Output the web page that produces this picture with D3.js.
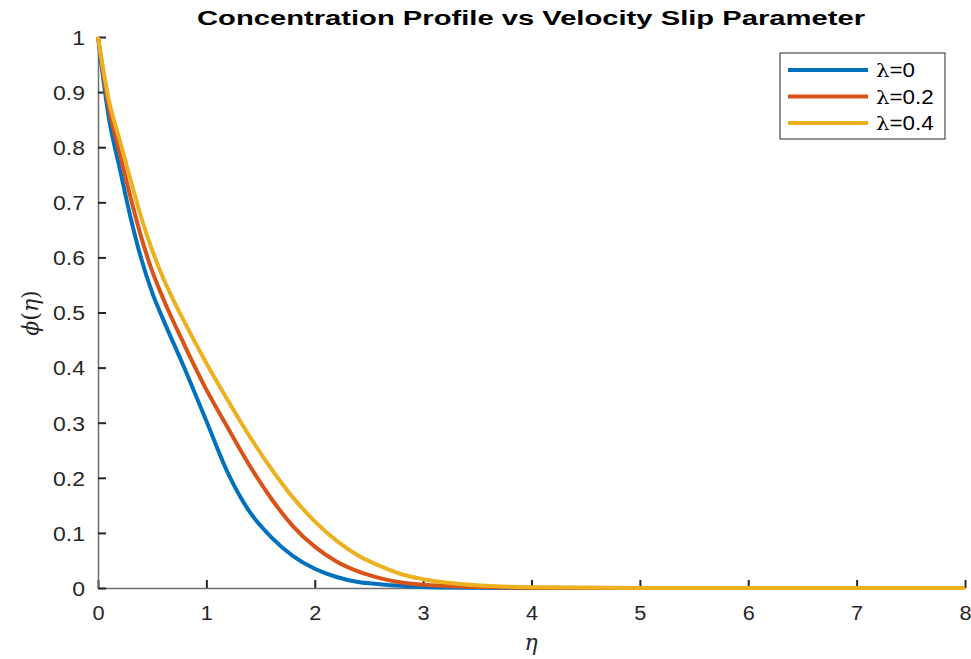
<!DOCTYPE html>
<html>
<head>
<meta charset="utf-8">
<script src="https://cdn.jsdelivr.net/npm/d3@7"></script>
<style>
  body { margin: 0; background: #fff; }
  svg { display: block; font-family: "Liberation Sans", Arial, sans-serif; }
</style>
</head>
<body>
<svg id="chart" width="971" height="659"></svg>
<script>
const eta = [0, 0.1, 0.2, 0.3, 0.4, 0.5, 0.6, 0.8, 1.0, 1.2, 1.4, 1.6, 1.8, 2.0, 2.2, 2.4, 2.6, 2.8, 3.0, 3.5, 4, 5, 6, 7, 8]
const phiL0 = [1, 0.853, 0.762, 0.673, 0.597, 0.536, 0.488, 0.398, 0.303, 0.208, 0.138, 0.092, 0.058, 0.035, 0.02, 0.011, 0.007, 0.004, 0.002, 0.0005, 0, 0, 0, 0, 0]
const phiL2 = [1, 0.872, 0.79, 0.709, 0.636, 0.575, 0.526, 0.44, 0.36, 0.29, 0.222, 0.162, 0.112, 0.075, 0.048, 0.03, 0.018, 0.01, 0.006, 0.002, 0.0005, 0, 0, 0, 0]
const phiL4 = [1, 0.886, 0.813, 0.741, 0.672, 0.613, 0.563, 0.482, 0.408, 0.34, 0.275, 0.216, 0.164, 0.121, 0.086, 0.059, 0.04, 0.025, 0.016, 0.005, 0.0015, 0.0002, 0, 0, 0]
const seriesNames = ['=0', '=0.2', '=0.4']
const colors = ['#0072BD', '#D95319', '#EDB120']
const xTicks = [0, 1, 2, 3, 4, 5, 6, 7, 8]
const yTicks = [0, 0.1, 0.2, 0.3, 0.4, 0.5, 0.6, 0.7, 0.8, 0.9, 1]

const svg = d3.select('#chart')
const plotLeft = 98, plotRight = 965, plotTop = 37, plotBottom = 588
const stretch = 1.12

const x = d3.scaleLinear().domain([0, 8]).range([plotLeft, plotRight])
const y = d3.scaleLinear().domain([0, 1]).range([plotBottom, plotTop])

const series = [phiL0, phiL2, phiL4].map((vals, i) => ({
    name: seriesNames[i],
    color: colors[i],
    points: vals.map((v, j) => [eta[j], v])
}))

// horizontal stretch around an anchor x, the reference is a bit wide
const widen = (ax, s = stretch) => `translate(${ax},0) scale(${s},1) translate(${-ax},0)`

// axes, ticks pointing inward like matlab
const xAxis = svg.append('g')
    .attr('transform', `translate(0,${plotBottom})`)
    .call(d3.axisBottom(x).tickValues(xTicks).tickSizeInner(-8).tickSizeOuter(0).tickPadding(17).tickFormat(d3.format('d')))
const yAxis = svg.append('g')
    .attr('transform', `translate(${plotLeft},0)`)
    .call(d3.axisLeft(y).tickValues(yTicks).tickSizeInner(-8).tickSizeOuter(0).tickPadding(13).tickFormat(d => d === 0 || d === 1 ? d3.format('d')(d) : d3.format('.1f')(d)))

for (const ax of [xAxis, yAxis]) {
    ax.attr('font-family', '"Liberation Sans", Arial, sans-serif')
    ax.select('.domain').attr('stroke', '#6e6e6e').attr('stroke-width', 1.5)
    ax.selectAll('.tick line').attr('stroke', '#262626').attr('stroke-width', 2)
    ax.selectAll('.tick text').attr('fill', '#262626').attr('font-size', 20.5)
}
xAxis.selectAll('.tick text').attr('transform', widen(0, 1.06))
yAxis.selectAll('.tick text').attr('dy', '0.36em').attr('transform', widen(-13))

const line = d3.line()
    .x(d => x(d[0]))
    .y(d => y(d[1]))
    .curve(d3.curveMonotoneX)

svg.append('g').selectAll('path')
    .data(series)
    .enter()
    .append('path')
    .attr('d', d => line(d.points))
    .attr('fill', 'none')
    .attr('stroke', d => d.color)
    .attr('stroke-width', 4)
    .attr('stroke-linejoin', 'round')

// title + labels
svg.append('text')
    .attr('x', 531).attr('y', 25)
    .attr('text-anchor', 'middle')
    .attr('font-weight', 'bold')
    .attr('font-size', 20)
    .attr('textLength', 668)
    .attr('lengthAdjust', 'spacingAndGlyphs')
    .attr('fill', '#000')
    .text('Concentration Profile vs Velocity Slip Parameter')

svg.append('text')
    .attr('x', 531).attr('y', 650)
    .attr('text-anchor', 'middle')
    .attr('font-family', '"DejaVu Serif", serif')
    .attr('font-style', 'italic')
    .attr('font-size', 22)
    .attr('fill', '#262626')
    .text('η')

svg.append('text')
    .attr('transform', 'translate(38,313) rotate(-90)')
    .attr('text-anchor', 'middle')
    .attr('font-family', '"DejaVu Serif", serif')
    .attr('font-size', 22)
    .attr('fill', '#262626')
    .html('<tspan font-style="italic">ϕ</tspan>(<tspan font-style="italic">η</tspan>)')

// legend
const legend = svg.append('g')
legend.append('rect')
    .attr('x', 780).attr('y', 53)
    .attr('width', 165).attr('height', 86)
    .attr('fill', '#fff')
    .attr('stroke', '#262626')
    .attr('stroke-width', 1)

const rows = legend.selectAll('g.row')
    .data(series)
    .enter()
    .append('g')
    .attr('class', 'row')
    .attr('transform', (_, i) => `translate(0,${70 + i * 26.5})`)

rows.append('line')
    .attr('x1', 788).attr('x2', 868)
    .attr('stroke', d => d.color)
    .attr('stroke-width', 4)

const labels = rows.append('text')
    .attr('x', 876).attr('y', 0)
    .attr('dy', '0.36em')
    .attr('font-size', 20)
    .attr('fill', '#000')
    .attr('transform', widen(876))
labels.append('tspan')
    .attr('font-family', '"DejaVu Serif", serif')
    .attr('font-size', 19)
    .text('λ')
labels.append('tspan')
    .text(d => d.name)
</script>
</body>
</html>
